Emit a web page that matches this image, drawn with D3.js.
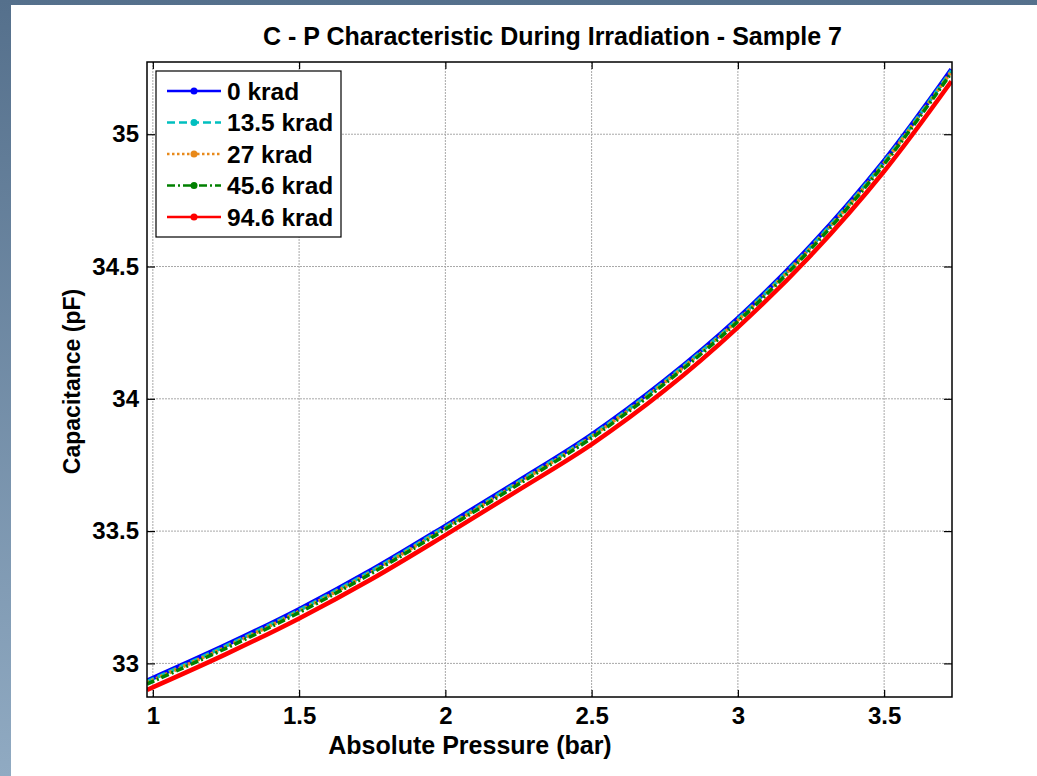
<!DOCTYPE html>
<html>
<head>
<meta charset="utf-8">
<script src="https://cdn.jsdelivr.net/npm/d3@7"></script>
<style>
  body { margin: 0; background: #fff; }
  svg text { font-family: "Liberation Sans", Arial, sans-serif; font-weight: bold; fill: #000; }
</style>
</head>
<body>
<div id="chart"></div>
<script>
// values
const pressure = [0.98, 1.25, 1.5, 1.75, 2, 2.25, 2.5, 2.75, 3, 3.25, 3.5, 3.73];
const dose = ['0 krad', '13.5 krad', '27 krad', '45.6 krad', '94.6 krad'];
const cap0   = [32.935, 33.07, 33.205, 33.355, 33.52, 33.69, 33.865, 34.07, 34.305, 34.58, 34.9, 35.245];
const cap13  = [32.931, 33.066, 33.201, 33.351, 33.516, 33.686, 33.861, 34.066, 34.301, 34.576, 34.896, 35.241];
const cap27  = [32.927, 33.062, 33.197, 33.347, 33.512, 33.682, 33.857, 34.062, 34.297, 34.572, 34.892, 35.237];
const cap45  = [32.922, 33.057, 33.192, 33.342, 33.507, 33.677, 33.852, 34.057, 34.292, 34.567, 34.887, 35.232];
const cap94  = [32.9, 33.035, 33.17, 33.32, 33.485, 33.655, 33.828, 34.032, 34.27, 34.543, 34.86, 35.2];
const xTicks = [1, 1.5, 2, 2.5, 3, 3.5];
const yTicks = [33, 33.5, 34, 34.5, 35];

const series = [
  { name: dose[0], values: cap0,  color: '#0000ff', dash: null },
  { name: dose[1], values: cap13, color: '#00bfbf', dash: '8,4' },
  { name: dose[2], values: cap27, color: '#e8891a', dash: '2.5,2.5' },
  { name: dose[3], values: cap45, color: '#008000', dash: '8,3,2,3' },
  { name: dose[4], values: cap94, color: '#ff0000', dash: null }
];

const W = 1037, H = 776;
const margin = { left: 147, top: 62, right: 85, bottom: 79 };
const width = W - margin.left - margin.right;
const height = H - margin.top - margin.bottom;

const svg = d3.select('#chart').append('svg')
    .attr('width', W)
    .attr('height', H);

// slide background
const grad = svg.append('defs').append('linearGradient')
    .attr('id', 'bg').attr('x1', 0).attr('y1', 0).attr('x2', 0).attr('y2', 1);
grad.append('stop').attr('offset', 0).attr('stop-color', '#55708c');
grad.append('stop').attr('offset', 1).attr('stop-color', '#90aac2');
svg.append('rect').attr('width', W).attr('height', H).attr('fill', 'url(#bg)');
svg.append('rect').attr('x', 11).attr('y', 5).attr('width', W - 11).attr('height', H - 5).attr('fill', '#fff');

const g = svg.append('g')
    .attr('transform', `translate(${margin.left}, ${margin.top})`);

const x = d3.scaleLinear().domain([0.98, 3.732]).range([0, width]);
const y = d3.scaleLinear().domain([32.873, 35.273]).range([height, 0]);

// grid
g.append('g').selectAll('line').data(xTicks).join('line')
    .attr('x1', d => x(d)).attr('x2', d => x(d))
    .attr('y1', 0).attr('y2', height)
    .attr('stroke', '#a8a8a8').attr('stroke-dasharray', '2,1');
g.append('g').selectAll('line').data(yTicks).join('line')
    .attr('y1', d => y(d)).attr('y2', d => y(d))
    .attr('x1', 0).attr('x2', width)
    .attr('stroke', '#a8a8a8').attr('stroke-dasharray', '2,1');

// axes, ticks inward on all four sides
const axisStyle = sel => {
  sel.select('.domain').remove();
  sel.selectAll('.tick line').attr('stroke', '#000').attr('stroke-width', 1.2);
  sel.selectAll('.tick text').style('font-size', '24px').style('font-family', '"Liberation Sans", Arial, sans-serif').style('font-weight', 'bold');
};

g.append('g')
    .attr('transform', `translate(0, ${height})`)
    .call(d3.axisBottom(x).tickValues(xTicks).tickFormat(d3.format('')).tickSizeInner(-7).tickSizeOuter(0).tickPadding(10))
    .call(axisStyle);
g.append('g')
    .call(d3.axisTop(x).tickValues(xTicks).tickFormat('').tickSizeInner(-7).tickSizeOuter(0))
    .call(axisStyle);
g.append('g')
    .call(d3.axisLeft(y).tickValues(yTicks).tickFormat(d3.format('')).tickSizeInner(-8).tickSizeOuter(0).tickPadding(8))
    .call(axisStyle);
g.append('g')
    .attr('transform', `translate(${width}, 0)`)
    .call(d3.axisRight(y).tickValues(yTicks).tickFormat('').tickSizeInner(-8).tickSizeOuter(0))
    .call(axisStyle);

// curves
const line = d3.line()
    .x((d, i) => x(pressure[i]))
    .y(d => y(d))
    .curve(d3.curveCatmullRom);

const clip = svg.select('defs').append('clipPath').attr('id', 'plot');
clip.append('rect').attr('width', width).attr('height', height);

const curves = g.append('g').attr('clip-path', 'url(#plot)');
[series[4], series[0], series[1], series[2], series[3]].forEach(s => {
  curves.append('path')
      .attr('d', line(s.values))
      .attr('fill', 'none')
      .attr('stroke', s.color)
      .attr('stroke-width', s.dash ? 3.5 : 4.5)
      .attr('stroke-dasharray', s.dash);
});

// box
g.append('rect')
    .attr('width', width).attr('height', height)
    .attr('fill', 'none').attr('stroke', '#000').attr('stroke-width', 1.5);

// legend
const legend = g.append('g').attr('transform', 'translate(9, 9)');
legend.append('rect')
    .attr('width', 185).attr('height', 166)
    .attr('fill', '#fff').attr('stroke', '#000').attr('stroke-width', 1.2);
const row = legend.selectAll('g.row').data(series).join('g')
    .attr('class', 'row')
    .attr('transform', (d, i) => `translate(0, ${20 + i * 31.5})`);
row.append('line')
    .attr('x1', 11).attr('x2', 65)
    .attr('stroke', d => d.color).attr('stroke-width', 2.5)
    .attr('stroke-dasharray', d => d.dash);
row.append('circle')
    .attr('cx', 38).attr('r', 3.5)
    .attr('fill', d => d.color);
row.append('text')
    .attr('x', 71).attr('dy', '0.36em')
    .style('font-size', '24.5px')
    .text(d => d.name);

// labels
svg.append('text')
    .attr('x', margin.left + width / 2 + 3).attr('y', 45)
    .attr('text-anchor', 'middle')
    .style('font-size', '25px')
    .text('C - P Characteristic During Irradiation - Sample 7');
svg.append('text')
    .attr('x', 470).attr('y', 754)
    .attr('text-anchor', 'middle')
    .style('font-size', '25px')
    .text('Absolute Pressure (bar)');
svg.append('text')
    .attr('transform', `translate(80, ${margin.top + height / 2 + 2}) rotate(-90)`)
    .attr('text-anchor', 'middle')
    .style('font-size', '23px')
    .text('Capacitance (pF)');
</script>
</body>
</html>
